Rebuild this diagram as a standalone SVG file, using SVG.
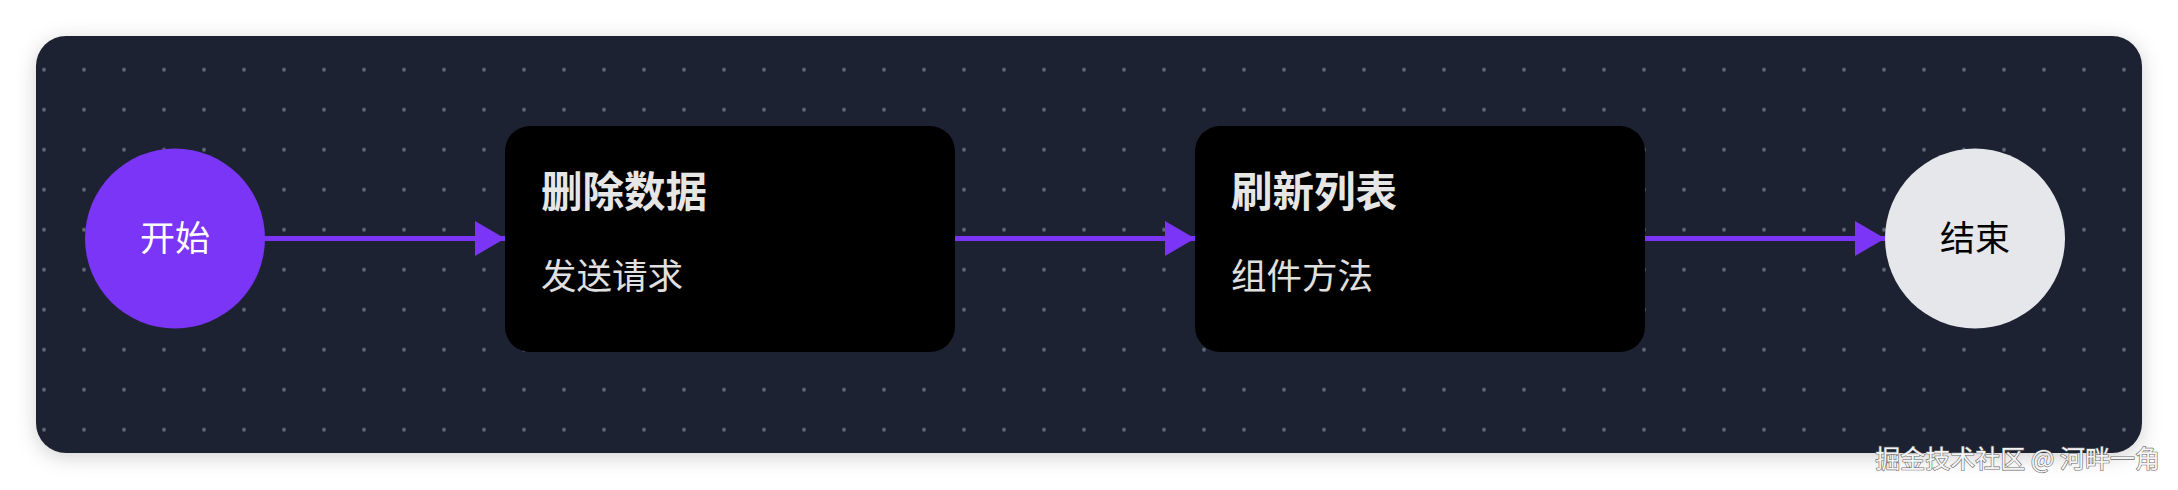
<svg xmlns="http://www.w3.org/2000/svg" width="2178" height="490" viewBox="0 0 2178 490">
  <style>
    .cjk { font-family: "Noto Sans CJK SC", "Noto Sans", sans-serif; }
    .title { font-size: 41.5px; font-weight: 700; fill: #e6e6e6; }
    .sub { font-size: 35.5px; font-weight: 400; fill: #e0e0e0; }
    .box { fill: #000000; }
    .edge { stroke: #7b35f6; stroke-width: 5; fill: none; }
    .circ-label { font-size: 35px; text-anchor: middle; }
    .wm { font-size: 25px; fill: #f4f4f4; stroke: #6b6b6b; stroke-width: 1.2; paint-order: stroke; }
  </style>
  <defs>
    <filter id="panelShadow" x="-5%" y="-20%" width="110%" height="140%">
      <feDropShadow dx="0" dy="4" stdDeviation="10" flood-color="#000" flood-opacity="0.18"/>
    </filter>
    <pattern id="dots" x="24" y="49.7" width="40" height="40" patternUnits="userSpaceOnUse">
      <circle cx="20" cy="20" r="1.9" fill="#616878"/>
    </pattern>
    <marker id="arrow" viewBox="0 0 30 35" refX="30" refY="17.5" markerWidth="30" markerHeight="35" markerUnits="userSpaceOnUse" orient="auto">
      <path d="M0,0 L30,17.5 L0,35 Z" fill="#7b35f6"/>
    </marker>
  </defs>
  <rect width="2178" height="490" fill="#ffffff"/>
  <g id="panel">
    <rect x="36" y="36" width="2106" height="417" rx="30" fill="#1f2330" filter="url(#panelShadow)"/>
    <rect x="36" y="36" width="2106" height="417" rx="30" fill="url(#dots)"/>
  </g>
  <g id="connectors">
    <line class="edge" x1="264" y1="238.5" x2="505" y2="238.5" marker-end="url(#arrow)"/>
    <line class="edge" x1="955" y1="238.5" x2="1195" y2="238.5" marker-end="url(#arrow)"/>
    <line class="edge" x1="1645" y1="238.5" x2="1885" y2="238.5" marker-end="url(#arrow)"/>
  </g>
  <g id="node-start">
    <circle cx="175" cy="238.5" r="90" fill="#7b35f6"/>
    <text class="cjk circ-label" x="175" y="251" fill="#ffffff">开始</text>
  </g>
  <g id="node-delete">
    <rect class="box" x="505" y="126" width="450" height="226" rx="25"/>
    <text class="cjk title" x="541" y="207">删除数据</text>
    <text class="cjk sub" x="541" y="289">发送请求</text>
  </g>
  <g id="node-refresh">
    <rect class="box" x="1195" y="126" width="450" height="226" rx="25"/>
    <text class="cjk title" x="1231" y="207">刷新列表</text>
    <text class="cjk sub" x="1231" y="289">组件方法</text>
  </g>
  <g id="node-end">
    <circle cx="1975" cy="238.5" r="90" fill="#e5e7eb"/>
    <text class="cjk circ-label" x="1975" y="251" fill="#000000">结束</text>
  </g>
  <text class="cjk wm" x="2160" y="468" text-anchor="end">掘金技术社区 @ 河畔一角</text>
</svg>
